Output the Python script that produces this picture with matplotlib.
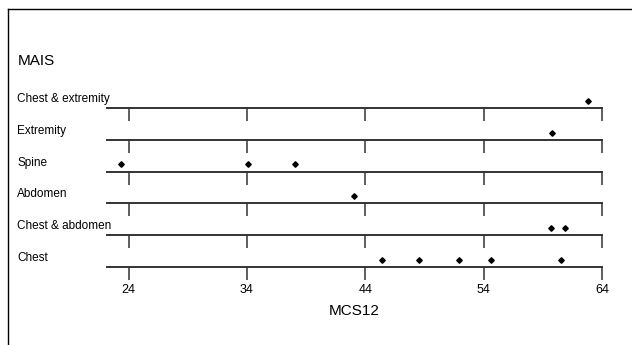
import matplotlib
matplotlib.use("Agg")
import matplotlib.pyplot as plt
from matplotlib.lines import Line2D

plt.rcParams['font.family'] = ['Liberation Sans', 'DejaVu Sans']

# rows from top to bottom
categories = ["Chest & extremity", "Extremity", "Spine", "Abdomen",
              "Chest & abdomen", "Chest"]
mcs12_values = [
    [62.8],
    [59.8],
    [23.4, 34.1, 38.1],
    [43.05],
    [59.7, 60.85],
    [45.45, 48.5, 51.9, 54.6, 60.5],
]
x_ticks = [24, 34, 44, 54, 64]
x_min, x_max = 22.18, 64

W, H = 632, 345
fig = plt.figure(figsize=(W / 100, H / 100), dpi=100)

# frame on left and top
fig.add_artist(Line2D([8 / W, 8 / W], [0, 1 - 9 / H], color="black", lw=1.0,
                      transform=fig.transFigure))
fig.add_artist(Line2D([8 / W, 1], [1 - 9 / H, 1 - 9 / H], color="black", lw=1.0,
                      transform=fig.transFigure))

fig.text(18 / W, 1 - 61 / H, "MAIS", fontsize=11, va="center", ha="left")

left_px, right_px = 107, 602
line_y = [108, 139.8, 171.6, 203.4, 235.2, 267]
row_h = 16

for i, (cat, vals) in enumerate(zip(categories, mcs12_values)):
    y0 = line_y[i]
    ax = fig.add_axes([left_px / W, 1 - y0 / H, (right_px - left_px) / W, row_h / H])
    ax.set_xlim(x_min, x_max)
    ax.set_ylim(0, 1)
    for s in ["top", "left", "right"]:
        ax.spines[s].set_visible(False)
    ax.spines["bottom"].set_linewidth(1.4)
    ax.spines["bottom"].set_color("#333333")
    ax.set_yticks([])
    ax.set_xticks(x_ticks)
    ax.tick_params(axis="x", direction="out", length=9, width=1.1, color="#333333",
                   labelsize=9, pad=3)
    ax.patch.set_visible(False)
    ax.plot(vals, [0.45] * len(vals), linestyle="none", marker="D",
            markersize=2.8, color="black", clip_on=False)
    if i < len(categories) - 1:
        ax.set_xticklabels([])
    else:
        ax.set_xlabel("MCS12", fontsize=11, labelpad=6)
    fig.text(17 / W, 1 - (y0 - 9) / H, cat, fontsize=8.5, va="center", ha="left")

fig.savefig("out.png", dpi=100)
